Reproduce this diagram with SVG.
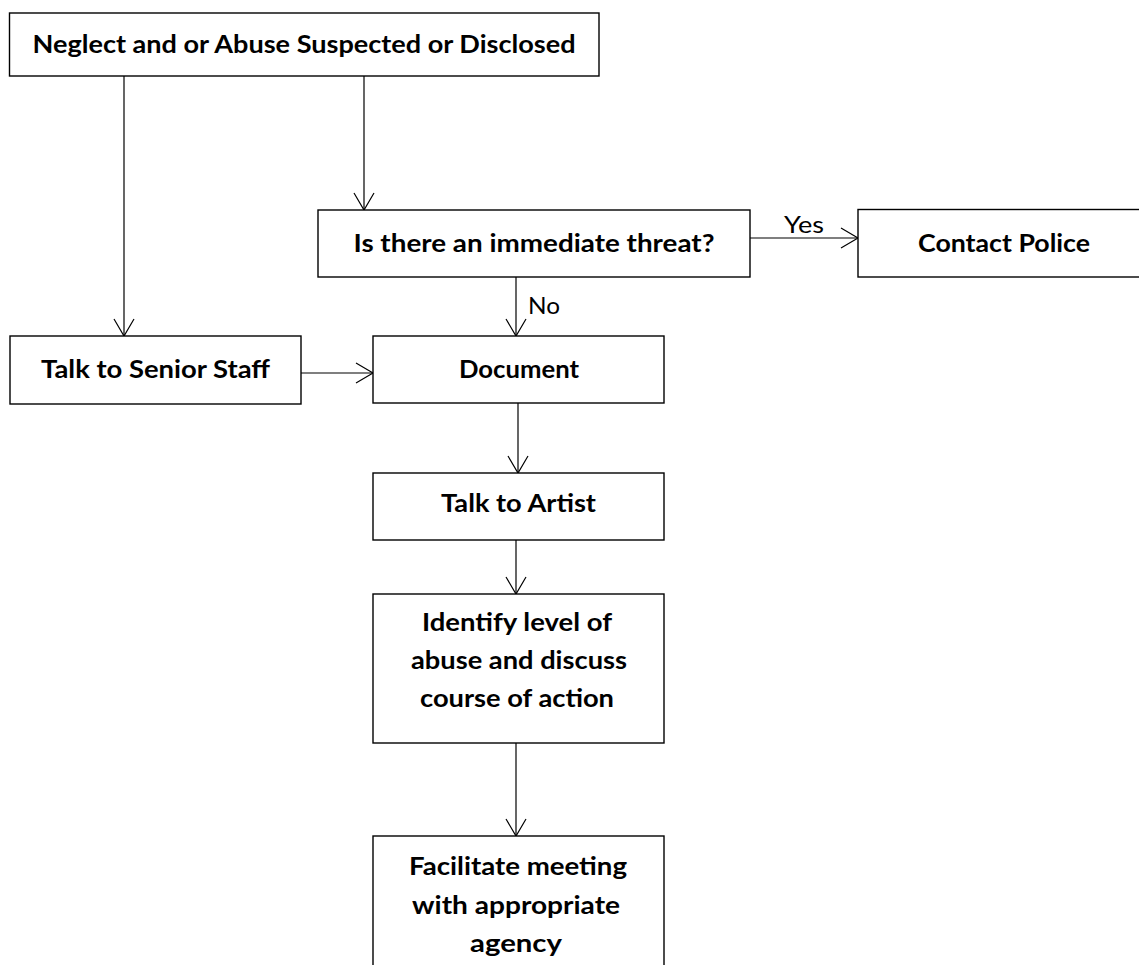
<svg xmlns="http://www.w3.org/2000/svg" width="1139" height="965" viewBox="0 0 1139 965">
<style>
.box{fill:#fff;stroke:#000;stroke-width:1.4}
.t{font-family:Lato,"Liberation Sans",sans-serif;font-weight:bold;font-size:25px;fill:#000;text-anchor:middle}
.l{font-family:Lato,"Liberation Sans",sans-serif;font-size:24px;fill:#000}
.c{fill:none;stroke:#000;stroke-width:1.2}
</style>
<defs>
<marker id="ah" markerUnits="userSpaceOnUse" markerWidth="20" markerHeight="22" viewBox="0 0 20 22" refX="18" refY="11" orient="auto">
<path d="M1,1 L18,11 L1,21" fill="none" stroke="#000" stroke-width="1.2"/>
</marker>
</defs>
<rect width="1139" height="965" fill="#fff"/>
<g id="connectors">
<line class="c" x1="124" y1="76" x2="124" y2="336" marker-end="url(#ah)"/>
<line class="c" x1="364" y1="76" x2="364" y2="210" marker-end="url(#ah)"/>
<line class="c" x1="750" y1="238" x2="858" y2="238" marker-end="url(#ah)"/>
<line class="c" x1="516" y1="277" x2="516" y2="336" marker-end="url(#ah)"/>
<line class="c" x1="297" y1="373" x2="373" y2="373" marker-end="url(#ah)"/>
<line class="c" x1="518" y1="403" x2="518" y2="473" marker-end="url(#ah)"/>
<line class="c" x1="516" y1="540" x2="516" y2="594" marker-end="url(#ah)"/>
<line class="c" x1="516" y1="743" x2="516" y2="836" marker-end="url(#ah)"/>
<text class="l" x="784" y="233" textLength="40" lengthAdjust="spacingAndGlyphs">Yes</text>
<text class="l" x="528" y="314" textLength="32" lengthAdjust="spacingAndGlyphs">No</text>
</g>
<g id="start">
<rect class="box" x="9.5" y="13" width="589.5" height="63"/>
<text class="t" x="304" y="53" textLength="543" lengthAdjust="spacingAndGlyphs">Neglect and or Abuse Suspected or Disclosed</text>
</g>
<g id="threat">
<rect class="box" x="318" y="210" width="432" height="67"/>
<text class="t" x="534" y="252" textLength="361" lengthAdjust="spacingAndGlyphs">Is there an immediate threat?</text>
</g>
<g id="police">
<rect class="box" x="858" y="209.5" width="300" height="67.5"/>
<text class="t" x="1004" y="252" textLength="172" lengthAdjust="spacingAndGlyphs">Contact Police</text>
</g>
<g id="senior">
<rect class="box" x="10" y="336" width="291" height="68"/>
<text class="t" x="155.5" y="378" textLength="229" lengthAdjust="spacingAndGlyphs">Talk to Senior Staff</text>
</g>
<g id="document">
<rect class="box" x="373" y="336" width="291" height="67"/>
<text class="t" x="519" y="378" textLength="120" lengthAdjust="spacingAndGlyphs">Document</text>
</g>
<g id="artist">
<rect class="box" x="373" y="473" width="291" height="67"/>
<text class="t" x="518.5" y="512" textLength="155" lengthAdjust="spacingAndGlyphs">Talk to Artist</text>
</g>
<g id="identify">
<rect class="box" x="373" y="594" width="291" height="149"/>
<text class="t" x="517" y="631" textLength="190" lengthAdjust="spacingAndGlyphs">Identify level of</text>
<text class="t" x="519" y="669" textLength="216" lengthAdjust="spacingAndGlyphs">abuse and discuss</text>
<text class="t" x="517" y="707" textLength="194" lengthAdjust="spacingAndGlyphs">course of action</text>
</g>
<g id="facilitate">
<rect class="box" x="373" y="836" width="291" height="150"/>
<text class="t" x="518" y="875" textLength="218" lengthAdjust="spacingAndGlyphs">Facilitate meeting</text>
<text class="t" x="516" y="914" textLength="208" lengthAdjust="spacingAndGlyphs">with appropriate</text>
<text class="t" x="516" y="952" textLength="92" lengthAdjust="spacingAndGlyphs">agency</text>
</g>
</svg>
